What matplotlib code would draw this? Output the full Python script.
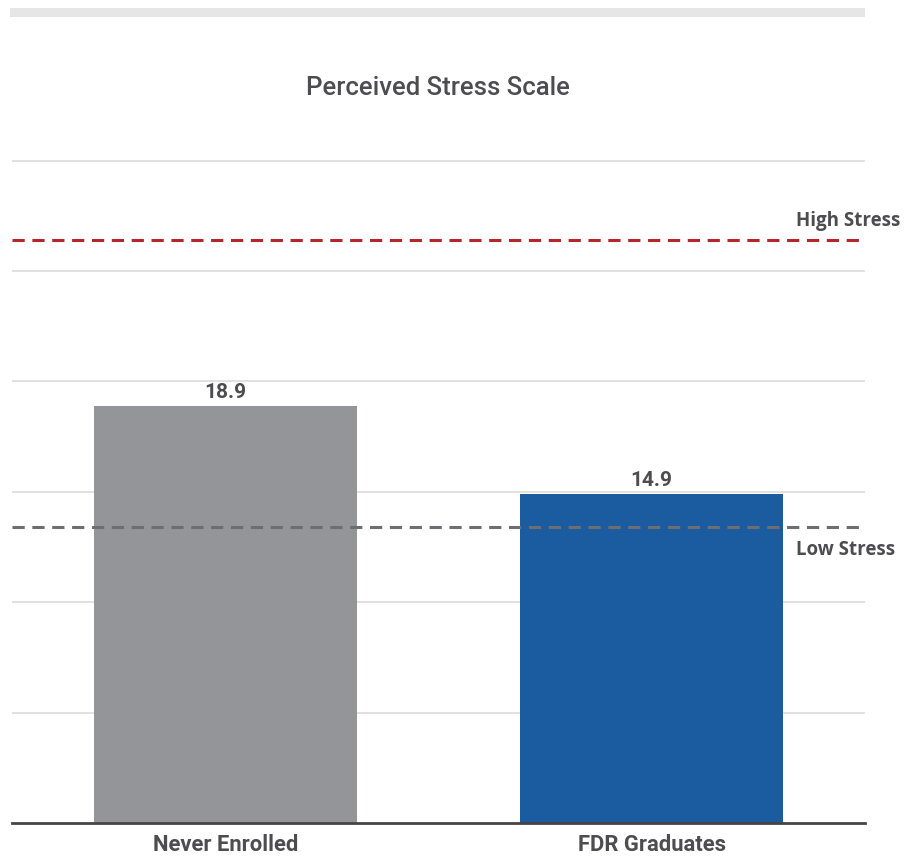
import matplotlib
matplotlib.use("Agg")
import matplotlib.pyplot as plt
from matplotlib.patches import Rectangle

plt.rcParams['font.family'] = ['Roboto', 'DejaVu Sans']

groups = ["Never Enrolled", "FDR Graduates"]
scores = [18.9, 14.9]
bar_colors = ["#939598", "#1b5ba0"]
high_stress = 26.4
low_stress = 13.4
grid_ticks = [5, 10, 15, 20, 25, 30]

text_color = "#4d4d4f"

fig = plt.figure(figsize=(9.06, 8.56), dpi=100)
ax = fig.add_axes([12 / 906, 33 / 856, 853 / 906, 0.838 - 33 / 856])

# light band across the top of the figure
fig.patches.append(Rectangle((10 / 906, 1 - 17 / 856), 855 / 906, 9 / 856,
                             transform=fig.transFigure, facecolor="#e6e6e6",
                             edgecolor="none"))

x = list(range(len(groups)))
bars = ax.bar(x, scores, width=0.617, color=bar_colors, zorder=2)
for b, v in zip(bars, scores):
    ax.annotate(f"{v}", (b.get_x() + b.get_width() / 2, v), xytext=(0, 3),
                textcoords="offset points", ha="center", va="bottom",
                fontsize=15, fontweight="bold", color=text_color)

ax.axhline(high_stress, color="#b3262b", lw=2.2, ls=(0, (4, 2.5)), zorder=3)
ax.axhline(low_stress, color="#6d6e71", lw=2.2, ls=(0, (4, 2.5)), zorder=3)
label_font = dict(family=["Open Sans", "DejaVu Sans"], fontsize=13.5,
                  fontweight="bold", color=text_color)
ax.annotate("High Stress", (1.338, high_stress), xytext=(0, 14),
            textcoords="offset points", ha="left", va="center",
            annotation_clip=False, **label_font)
ax.annotate("Low Stress", (1.338, low_stress), xytext=(0, -16.5),
            textcoords="offset points", ha="left", va="center",
            annotation_clip=False, **label_font)

ax.set_xlim(-0.5, 1.5)
ax.set_ylim(0, 31)
ax.set_yticks(grid_ticks)
ax.yaxis.grid(True, color="#dcdcdc", lw=1.2, zorder=0)
ax.tick_params(axis="y", left=False, labelleft=False)
ax.tick_params(axis="x", length=0, pad=8)
ax.set_xticks(x)
ax.set_xticklabels(groups, fontsize=15.8, fontweight="bold", color=text_color)
for side in ["top", "right", "left"]:
    ax.spines[side].set_visible(False)
ax.spines["bottom"].set_color("#454545")
ax.spines["bottom"].set_linewidth(2)
ax.spines["bottom"].set_zorder(4)

fig.text(438 / 906, 1 - 88 / 856, "Perceived Stress Scale", ha="center",
         va="center", fontsize=18.5, fontweight="medium", color=text_color)

fig.savefig("out.png", dpi=100, facecolor="white")
